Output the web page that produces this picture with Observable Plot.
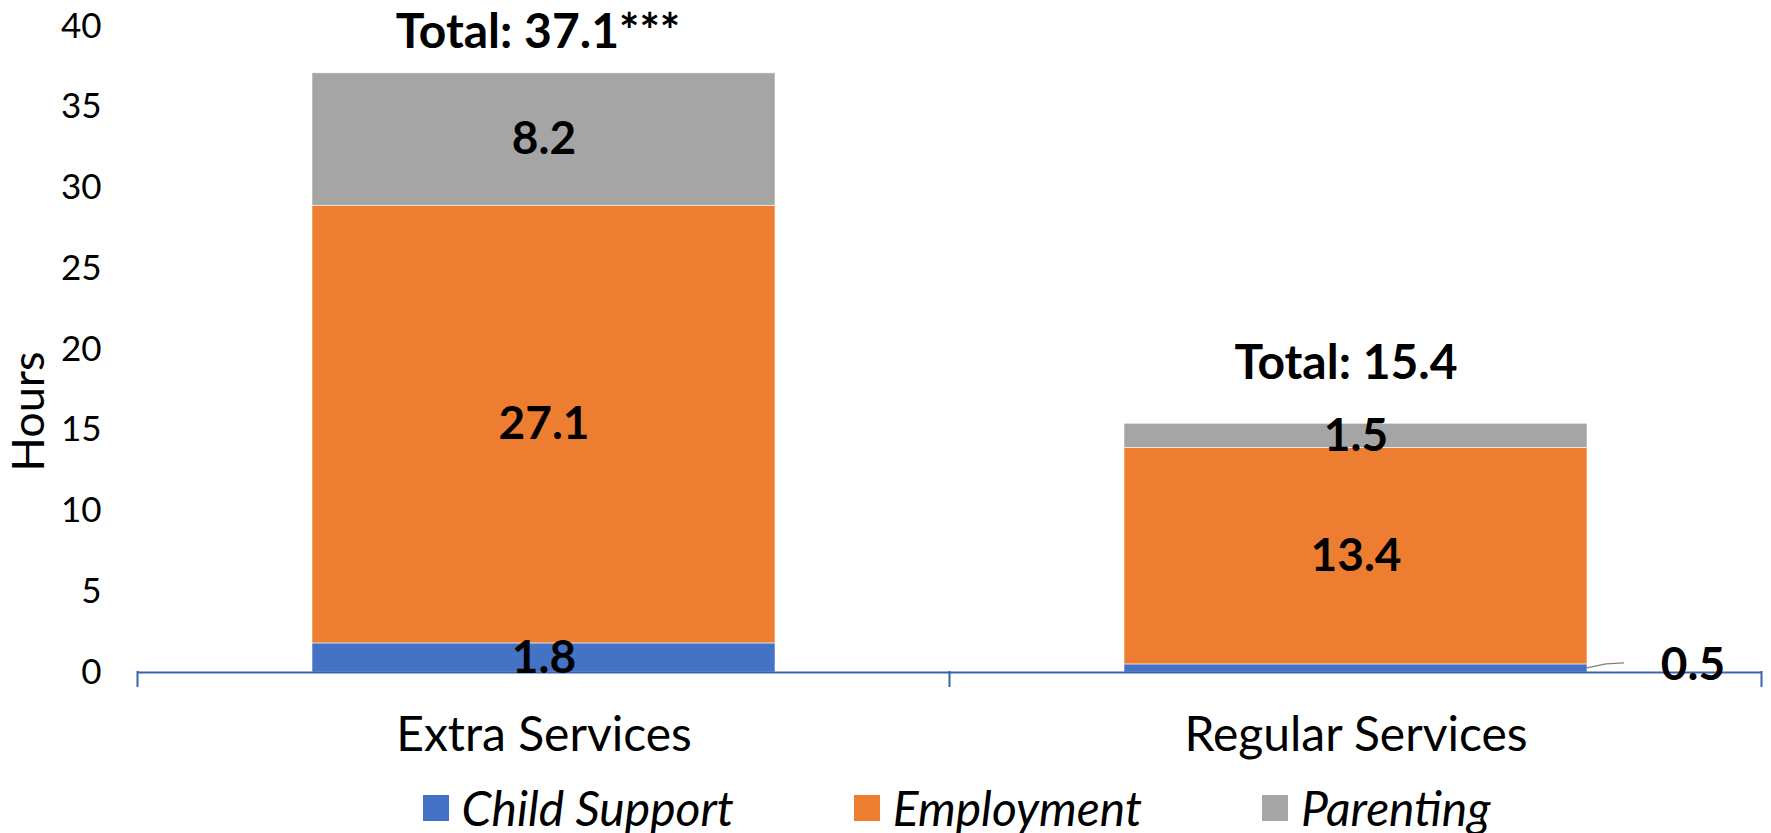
<!DOCTYPE html>
<html>
<head>
<meta charset="utf-8">
<script src="https://cdn.jsdelivr.net/npm/d3@7"></script>
<script src="https://cdn.jsdelivr.net/npm/@observablehq/plot@0.6"></script>
<style>
  body { margin: 0; background: #fff; font-family: Lato, "Noto Sans", sans-serif; }
  #legend { display: flex; justify-content: center; align-items: center; gap: 120px;
            padding-left: 151px; padding-right: 9px; height: 73px; box-sizing: border-box;
            padding-top: 23px; font-style: italic; font-size: 48px; color: #000; line-height: 1; }
  .item { display: flex; align-items: center; gap: 13px; }
  .sw { width: 26px; height: 26px; display: inline-block; }
</style>
</head>
<body>
<div id="chart"></div>
<div id="legend"></div>
<script>
const categories = ["Extra Services", "Regular Services"];
const series = ["Child Support", "Employment", "Parenting"];
const childSupport = [1.8, 0.5];
const employment = [27.1, 13.4];
const parenting = [8.2, 1.5];
const totals = [37.1, 15.4];
const totalLabels = ["Total: 37.1***", "Total: 15.4"];
const colors = ["#4472C4", "#ED7D31", "#A5A5A5"];
const yTicks = [0, 5, 10, 15, 20, 25, 30, 35, 40];
const yLabel = "Hours";

const seriesValues = [childSupport, employment, parenting];
const rows = [];
categories.forEach((c, i) => {
  series.forEach((s, j) => rows.push({category: c, series: s, value: seriesValues[j][i]}));
});
const isOutside = d => d.category === "Regular Services" && d.series === "Child Support";
const outsideRow = rows.filter(isOutside);
const totalRows = categories.map((c, i) => ({category: c, total: totals[i], label: totalLabels[i]}));
const axisBlue = "#3B63AE";

// band-boundary ticks below the x axis line
function boundaryTicks(index, scales, values, dimensions) {
  const x = scales.x, y = scales.y;
  const g = d3.create("svg:g");
  const pad = (x.step() - x.bandwidth()) / 2;
  const xs = categories.map(c => x(c) - pad);
  xs.push(x(categories[categories.length - 1]) - pad + x.step());
  const y0 = y(0);
  for (const xv of xs) {
    g.append("line").attr("x1", xv).attr("x2", xv).attr("y1", y0 - 1).attr("y2", y0 + 15)
      .attr("stroke", axisBlue).attr("stroke-width", 2);
  }
  return g.node();
}

// leader line for the outside "0.5" label
function leader(index, scales, values, dimensions) {
  const x = scales.x, y = scales.y;
  const g = d3.create("svg:g");
  const d = outsideRow[0];
  const x0 = x(d.category) + x.bandwidth();
  const y0 = y(d.value / 2);
  g.append("polyline")
    .attr("points", `${x0},${y0} ${x0 + 19},${y0 - 4} ${x0 + 37},${y0 - 5}`)
    .attr("fill", "none").attr("stroke", "#7f7f7f").attr("stroke-width", 1.3);
  return g.node();
}

const chart = Plot.plot({
  width: 1771,
  height: 760,
  marginTop: 26,
  marginBottom: 88,
  marginLeft: 137,
  marginRight: 9,
  style: {fontFamily: "Lato, 'Noto Sans', sans-serif", color: "#000", background: "#fff"},
  x: {domain: categories, paddingInner: 0.43, paddingOuter: 0.215},
  y: {domain: [0, 40]},
  color: {domain: series, range: colors},
  marks: [
    Plot.barY(rows, Plot.stackY({x: "category", y: "value", fill: "series", z: "series",
      stroke: "#ffffff", strokeWidth: 0.8, strokeOpacity: 0.7})),
    Plot.ruleY([0], {stroke: axisBlue, strokeWidth: 2}),
    boundaryTicks,
    Plot.axisY({ticks: yTicks, tickSize: 0, tickPadding: 36, fontSize: 35, label: null, tickFormat: d3.format("d")}),
    Plot.text([yLabel], {text: d => d, frameAnchor: "left", textAnchor: "middle", lineAnchor: "middle",
      rotate: -90, dx: -108, dy: 62, fontSize: 45, fill: "#000"}),
    Plot.axisX({tickSize: 0, tickPadding: 44, fontSize: 48, label: null}),
    Plot.text(rows, Plot.stackY({x: "category", y: "value", z: "series",
      text: d => isOutside(d) ? null : d.value.toFixed(1),
      fontSize: 46, fontWeight: "bold", fill: "#000"})),
    Plot.text(outsideRow, {x: "category", y: d => d.value / 2, text: d => d.value.toFixed(1),
      dx: 337, dy: -3, fontSize: 46, fontWeight: "bold", fill: "#000"}),
    leader,
    Plot.text(totalRows.slice(0, 1), {x: "category", y: "total", text: "label", dx: -6, dy: -41,
      fontSize: 48, fontWeight: "bold", fill: "#000"}),
    Plot.text(totalRows.slice(1), {x: "category", y: "total", text: "label", dx: -10, dy: -60,
      fontSize: 48, fontWeight: "bold", fill: "#000"})
  ]
});
document.getElementById("chart").appendChild(chart);

const legend = document.getElementById("legend");
series.forEach((s, i) => {
  const item = document.createElement("div");
  item.className = "item";
  const sw = document.createElement("span");
  sw.className = "sw";
  sw.style.background = colors[i];
  const t = document.createElement("span");
  t.textContent = s;
  item.appendChild(sw);
  item.appendChild(t);
  legend.appendChild(item);
});
</script>
</body>
</html>
